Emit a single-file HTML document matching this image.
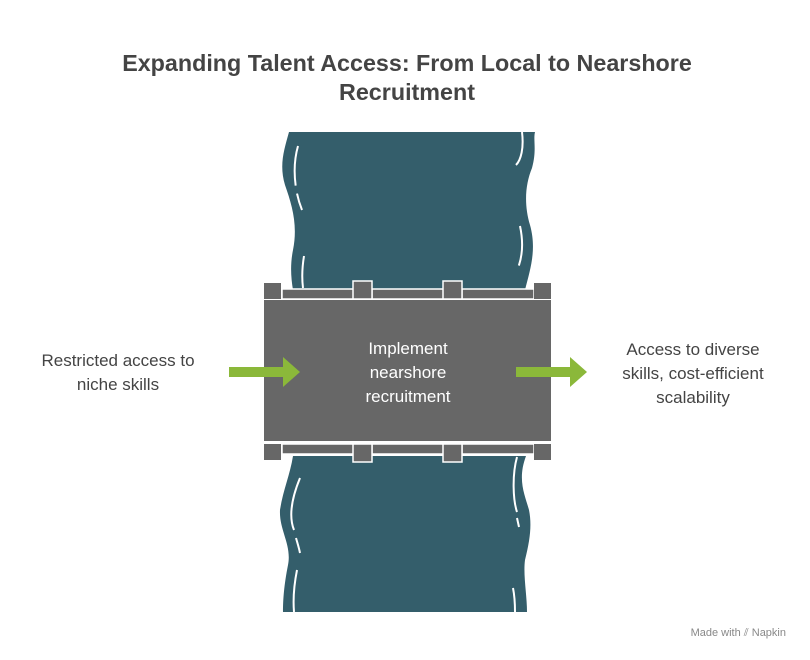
<!DOCTYPE html>
<html><head><style>
body{margin:0;background:#fff;}
svg{display:block;font-family:"Liberation Sans",sans-serif;}
</style></head><body>
<svg width="810" height="660" viewBox="0 0 810 660">
<text x="407" y="71" text-anchor="middle" font-size="23.3" font-weight="bold" fill="#444">Expanding Talent Access: From Local to Nearshore</text>
<text x="407" y="100" text-anchor="middle" font-size="23.3" font-weight="bold" fill="#444">Recruitment</text>
<!-- top river -->
<path d="M289 132 C284 150,279 165,285 185 C292 205,298 225,293 250 C290 265,291 278,293 290 L525 290 C530 270,537 250,530 225 C524 205,525 185,532 168 C537 150,533 140,535 132 Z" fill="#345e6b"/>
<path d="M298 146 C294 160,292 185,302 210 M304 256 C302 268,302 280,303 288 M522 132 C524 148,521 160,516 165 M520 226 C523 240,523 255,518 268" stroke="#fff" stroke-width="2" fill="none" stroke-dasharray="40 8"/>
<!-- bottom river -->
<path d="M293 456 C290 475,283 490,280 510 C279 530,292 545,288 565 C284 585,283 600,283 612 L527 612 C527 595,523 575,525 560 C530 540,532 525,529 510 C525 495,517 480,526 456 Z" fill="#345e6b"/>
<path d="M300 478 C293 495,288 515,294 530 M296 538 C298 545,299 548,300 553 M297 570 C294 585,293 600,294 612 M517 457 C512 475,513 500,517 512 M517 518 L519 527 M513 588 C515 598,515 605,515 612" stroke="#fff" stroke-width="2" fill="none"/>
<!-- bridge -->
<rect x="264" y="300" width="287" height="141" fill="#676767"/>
<g fill="#676767" stroke="#fff" stroke-width="1.5">
<rect x="282" y="289" width="72" height="10"/>
<rect x="372" y="289" width="72" height="10"/>
<rect x="462" y="289" width="72" height="10"/>
<rect x="264" y="283" width="17" height="16" stroke="none"/>
<rect x="534" y="283" width="17" height="16" stroke="none"/>
<rect x="353" y="281" width="19" height="18"/>
<rect x="443" y="281" width="19" height="18"/>
<rect x="282" y="444" width="72" height="10"/>
<rect x="372" y="444" width="72" height="10"/>
<rect x="462" y="444" width="72" height="10"/>
<rect x="264" y="444" width="17" height="16" stroke="none"/>
<rect x="534" y="444" width="17" height="16" stroke="none"/>
<rect x="353" y="444" width="19" height="18"/>
<rect x="443" y="444" width="19" height="18"/>
</g>
<g font-size="17" fill="#fff" text-anchor="middle">
<text x="408" y="354">Implement</text>
<text x="408" y="378">nearshore</text>
<text x="408" y="402">recruitment</text>
</g>
<!-- arrows -->
<path d="M229 367 H283 V357 L300 372 L283 387 V377 H229 Z" fill="#8bb83a"/>
<path d="M516 367 H570 V357 L587 372 L570 387 V377 H516 Z" fill="#8bb83a"/>
<g font-size="17" fill="#444" text-anchor="middle">
<text x="118" y="366">Restricted access to</text>
<text x="118" y="390">niche skills</text>
<text x="693" y="355">Access to diverse</text>
<text x="693" y="379">skills, cost-efficient</text>
<text x="693" y="403">scalability</text>
</g>
<text x="786" y="636" text-anchor="end" font-size="11" fill="#888">Made with ⫽ Napkin</text>
</svg>
</body></html>
